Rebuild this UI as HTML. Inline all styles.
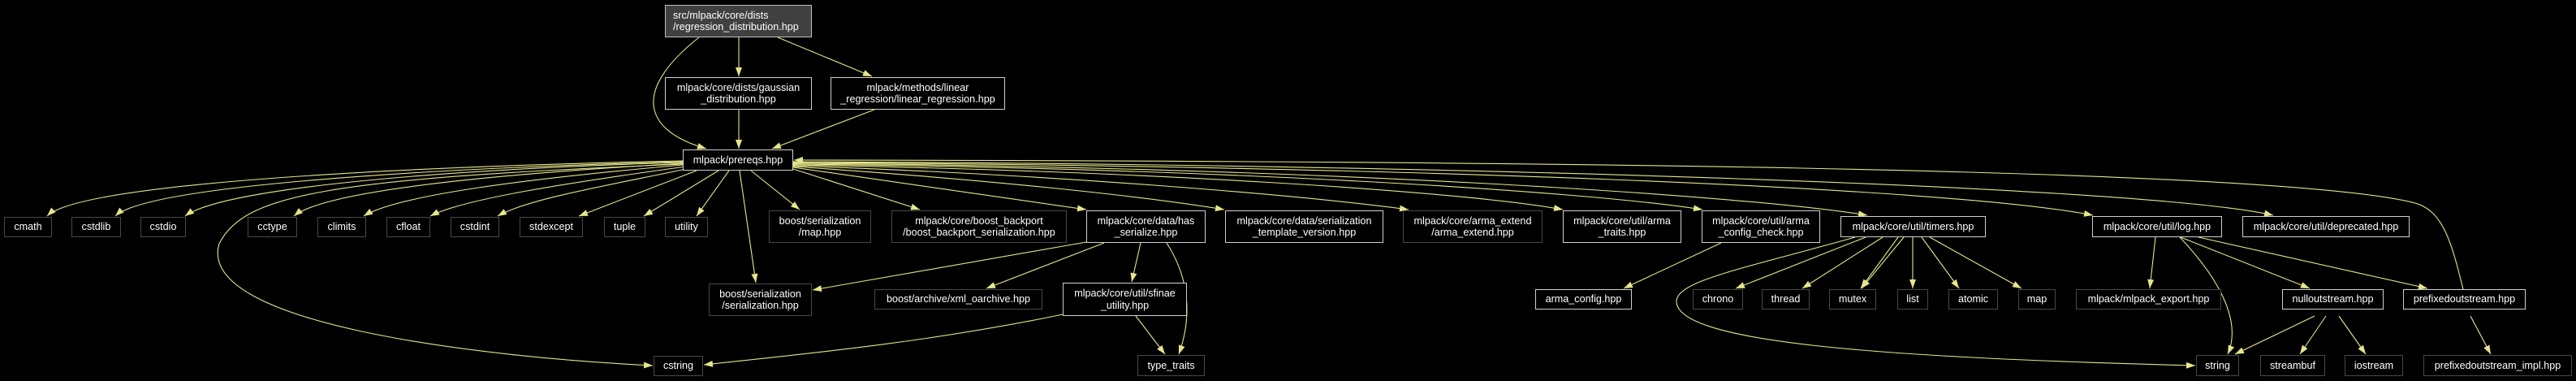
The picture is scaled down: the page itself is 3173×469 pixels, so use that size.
<!DOCTYPE html>
<html><head><meta charset="utf-8"><style>
html,body{margin:0;padding:0;background:#000;}
#c{position:relative;width:3173px;height:469px;background:#000;overflow:hidden;font-family:"Liberation Sans",sans-serif;font-size:12.6px;color:#fff;}
.n{position:absolute;box-sizing:border-box;display:flex;align-items:center;justify-content:center;text-align:center;line-height:14.5px;background:#000;white-space:nowrap;}
.w{border:1px solid #d0d0d0;}
.d{border:1px solid #484848;}
.r{border:1px solid #c0c0c0;background:#404040;justify-content:flex-start;text-align:left;padding-left:9px;}
svg{position:absolute;left:0;top:0;}
</style></head><body><div id="c">
<svg width="3173" height="469" viewBox="0 0 3173 469">
<defs><marker id="a" markerUnits="userSpaceOnUse" markerWidth="12" markerHeight="10" refX="11" refY="4" orient="auto"><path d="M0,0 L11,4 L0,8 z" fill="#e6e68c"/></marker></defs>
<g fill="none" stroke="#e6e68c" stroke-width="1.1" marker-end="url(#a)">
<path d="M910,46 L910,94"/>
<path d="M958,46 L1074,94"/>
<path d="M861,46 C780,110 790,160 870,183"/>
<path d="M910,135 L910,183"/>
<path d="M1077,135 L951,183"/>
<path d="M841,198 C500,205 100,225 58,266"/>
<path d="M841,199 C500,208 180,230 142,266"/>
<path d="M841,200 C500,210 270,235 228,266"/>
<path d="M841,201 C600,215 400,235 362,266"/>
<path d="M841,203 C650,220 490,240 448,266"/>
<path d="M845,205 C700,225 570,245 530,266"/>
<path d="M850,207 C740,230 650,245 613,266"/>
<path d="M858,210 L713,266"/>
<path d="M885,210 L793,266"/>
<path d="M898,210 L858,266"/>
<path d="M925,210 L985,258"/>
<path d="M911,210 L931,348"/>
<path d="M841,202 C400,220 300,240 270,300 C240,400 600,440 804,450"/>
<path d="M977,208 L1133,258"/>
<path d="M977,206 L1338,258"/>
<path d="M977,205 C1200,220 1400,240 1508,258"/>
<path d="M977,204 C1300,215 1600,240 1735,258"/>
<path d="M977,203 C1400,210 1800,235 1925,258"/>
<path d="M977,202 C1500,207 1950,235 2097,258"/>
<path d="M977,201 C1600,205 2150,240 2300,265"/>
<path d="M977,200 C1700,204 2400,230 2578,265"/>
<path d="M977,199 C1800,202 2650,230 2800,265"/>
<path d="M3034,356 C3020,300 3010,260 2975,250 C2800,205 1800,198 978,197"/>
<path d="M1338,298 L1001,357"/>
<path d="M1360,299 L1215,355"/>
<path d="M1405,299 L1394,347"/>
<path d="M1437,299 C1470,350 1465,400 1452,436"/>
<path d="M1309,387 C1150,420 1000,435 867,449"/>
<path d="M1399,389 L1435,436"/>
<path d="M2120,299 L2000,355"/>
<path d="M2298,292 L2138,355"/>
<path d="M2319,292 L2220,355"/>
<path d="M2338,292 L2292,355"/>
<path d="M2345,292 L2293,355"/>
<path d="M2356,292 L2356,355"/>
<path d="M2367,292 L2413,355"/>
<path d="M2377,292 L2490,355"/>
<path d="M2285,292 C2150,330 2068,345 2065,370 C2062,420 2300,440 2704,450"/>
<path d="M2655,292 L2648,355"/>
<path d="M2685,292 C2740,350 2760,400 2744,436"/>
<path d="M2686,292 L2845,355"/>
<path d="M2708,292 L2990,355"/>
<path d="M2851,389 L2753,436"/>
<path d="M2865,389 L2833,436"/>
<path d="M2881,389 L2914,436"/>
<path d="M3043,389 L3068,436"/>
</g>
</svg>
<div class="n r" style="left:819px;top:6px;width:181px;height:40px;">src/mlpack/core/dists<br>/regression_distribution.hpp</div>
<div class="n w" style="left:819px;top:95px;width:181px;height:40px;">mlpack/core/dists/gaussian<br>_distribution.hpp</div>
<div class="n w" style="left:1023px;top:95px;width:215px;height:40px;">mlpack/methods/linear<br>_regression/linear_regression.hpp</div>
<div class="n w" style="left:841px;top:184px;width:136px;height:26px;">mlpack/prereqs.hpp</div>
<div class="n d" style="left:5px;top:267px;width:59px;height:25px;">cmath</div>
<div class="n d" style="left:88px;top:267px;width:61px;height:25px;">cstdlib</div>
<div class="n d" style="left:173px;top:267px;width:56px;height:25px;">cstdio</div>
<div class="n d" style="left:305px;top:267px;width:61px;height:25px;">cctype</div>
<div class="n d" style="left:391px;top:267px;width:60px;height:25px;">climits</div>
<div class="n d" style="left:476px;top:267px;width:54px;height:25px;">cfloat</div>
<div class="n d" style="left:555px;top:267px;width:60px;height:25px;">cstdint</div>
<div class="n d" style="left:640px;top:267px;width:78px;height:25px;">stdexcept</div>
<div class="n d" style="left:744px;top:267px;width:51px;height:25px;">tuple</div>
<div class="n d" style="left:819px;top:267px;width:53px;height:25px;">utility</div>
<div class="n d" style="left:947px;top:259px;width:126px;height:40px;">boost/serialization<br>/map.hpp</div>
<div class="n d" style="left:1098px;top:259px;width:216px;height:40px;">mlpack/core/boost_backport<br>/boost_backport_serialization.hpp</div>
<div class="n w" style="left:1338px;top:259px;width:147px;height:40px;">mlpack/core/data/has<br>_serialize.hpp</div>
<div class="n w" style="left:1509px;top:259px;width:195px;height:40px;">mlpack/core/data/serialization<br>_template_version.hpp</div>
<div class="n d" style="left:1728px;top:259px;width:172px;height:40px;">mlpack/core/arma_extend<br>/arma_extend.hpp</div>
<div class="n w" style="left:1925px;top:259px;width:146px;height:40px;">mlpack/core/util/arma<br>_traits.hpp</div>
<div class="n w" style="left:2096px;top:259px;width:146px;height:40px;">mlpack/core/util/arma<br>_config_check.hpp</div>
<div class="n w" style="left:2267px;top:266px;width:179px;height:26px;">mlpack/core/util/timers.hpp</div>
<div class="n w" style="left:2577px;top:266px;width:160px;height:26px;">mlpack/core/util/log.hpp</div>
<div class="n w" style="left:2762px;top:266px;width:206px;height:26px;">mlpack/core/util/deprecated.hpp</div>
<div class="n d" style="left:873px;top:349px;width:127px;height:40px;">boost/serialization<br>/serialization.hpp</div>
<div class="n d" style="left:1077px;top:356px;width:207px;height:25px;">boost/archive/xml_oarchive.hpp</div>
<div class="n w" style="left:1309px;top:348px;width:153px;height:41px;">mlpack/core/util/sfinae<br>_utility.hpp</div>
<div class="n w" style="left:1891px;top:356px;width:119px;height:25px;">arma_config.hpp</div>
<div class="n d" style="left:2085px;top:356px;width:62px;height:25px;">chrono</div>
<div class="n d" style="left:2170px;top:356px;width:59px;height:25px;">thread</div>
<div class="n d" style="left:2253px;top:356px;width:58px;height:25px;">mutex</div>
<div class="n d" style="left:2337px;top:356px;width:38px;height:25px;">list</div>
<div class="n d" style="left:2400px;top:356px;width:61px;height:25px;">atomic</div>
<div class="n d" style="left:2486px;top:356px;width:46px;height:25px;">map</div>
<div class="n d" style="left:2557px;top:356px;width:179px;height:25px;">mlpack/mlpack_export.hpp</div>
<div class="n w" style="left:2811px;top:356px;width:125px;height:25px;">nulloutstream.hpp</div>
<div class="n w" style="left:2960px;top:356px;width:151px;height:25px;">prefixedoutstream.hpp</div>
<div class="n d" style="left:805px;top:438px;width:61px;height:25px;">cstring</div>
<div class="n d" style="left:1401px;top:437px;width:83px;height:26px;">type_traits</div>
<div class="n d" style="left:2705px;top:437px;width:53px;height:26px;">string</div>
<div class="n d" style="left:2784px;top:437px;width:80px;height:26px;">streambuf</div>
<div class="n d" style="left:2888px;top:437px;width:72px;height:26px;">iostream</div>
<div class="n d" style="left:2985px;top:437px;width:183px;height:26px;">prefixedoutstream_impl.hpp</div>
</div></body></html>
